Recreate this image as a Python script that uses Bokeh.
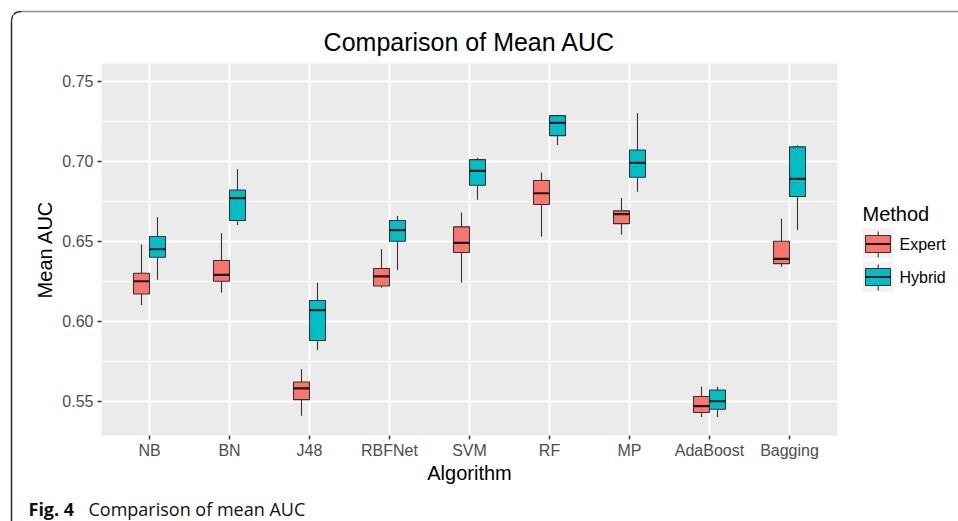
import math
from bokeh.plotting import figure
from bokeh.layouts import column, row
from bokeh.models import Range1d, FixedTicker
from bokeh.core.properties import value
from bokeh.embed import file_html
from bokeh.resources import INLINE

# ---------------- data ----------------
algorithms = ["NB", "BN", "J48", "RBFNet", "SVM", "RF", "MP", "AdaBoost", "Bagging"]
methods = ["Expert", "Hybrid"]
method_colors = ["#F8766D", "#00BFC4"]

expert_low = [0.610, 0.618, 0.541, 0.621, 0.624, 0.653, 0.654, 0.540, 0.634]
expert_q1 = [0.617, 0.625, 0.551, 0.622, 0.643, 0.673, 0.661, 0.543, 0.636]
expert_median = [0.625, 0.629, 0.558, 0.628, 0.649, 0.680, 0.667, 0.547, 0.639]
expert_q3 = [0.630, 0.638, 0.562, 0.633, 0.659, 0.688, 0.669, 0.553, 0.650]
expert_high = [0.648, 0.655, 0.570, 0.645, 0.668, 0.693, 0.677, 0.559, 0.664]

hybrid_low = [0.626, 0.660, 0.582, 0.632, 0.676, 0.710, 0.681, 0.540, 0.657]
hybrid_q1 = [0.640, 0.663, 0.588, 0.650, 0.685, 0.716, 0.690, 0.545, 0.678]
hybrid_median = [0.645, 0.677, 0.607, 0.657, 0.694, 0.724, 0.699, 0.550, 0.689]
hybrid_q3 = [0.653, 0.682, 0.613, 0.663, 0.701, 0.7285, 0.707, 0.557, 0.709]
hybrid_high = [0.665, 0.695, 0.624, 0.666, 0.702, 0.729, 0.730, 0.559, 0.710]

y_ticks = [0.55, 0.60, 0.65, 0.70, 0.75]
y_tick_labels = ["0.55", "0.60", "0.65", "0.70", "0.75"]
y_minor = [0.575, 0.625, 0.675, 0.725]

title_text = "Comparison of Mean AUC"
x_title = "Algorithm"
y_title = "Mean AUC"
legend_title = "Method"
caption_bold = "Fig. 4"
caption_text = "Comparison of mean AUC"

FONT = "Liberation Sans"
CAP_FONT = "Open Sans"
BORDER_DARK = "#2B2B2B"
BORDER_GREY = "#8C8C8C"

# page-pixel layout
STRIP_W = 13          # left border strip
YT_RIGHT = 56         # right edge of y-title strip
PANEL_L, PANEL_R = 101, 837
PANEL_T, PANEL_B = 63, 435
MAIN_B = 493          # bottom of main row
LEG_R = 958
PAGE_H = 521

# ---------------- helpers ----------------
def deco(x0, x1, y0, y1, fy0=None, fy1=None):
    """Figure whose data coordinates are page pixels (y downwards).
    fy0/fy1 give the frame's vertical extent when it differs from the canvas."""
    fy0 = y0 if fy0 is None else fy0
    fy1 = y1 if fy1 is None else fy1
    f = figure(width=x1 - x0, height=y1 - y0, output_backend="svg",
               toolbar_location=None, x_range=Range1d(x0, x1),
               y_range=Range1d(fy1, fy0), x_axis_type=None, y_axis_type=None,
               min_border=0, min_border_top=fy0 - y0, min_border_bottom=y1 - fy1)
    f.outline_line_color = None
    f.background_fill_color = "white"
    f.border_fill_color = "white"
    return f

def txt(f, x, y, s, size, align="center", font=FONT, style="normal",
        color="black", angle=0.0):
    f.text(x=[x], y=[y], text=[s], text_align=align, text_baseline="middle",
           text_font=value(font), text_font_size=size, text_font_style=style,
           text_color=color, angle=angle)

def corner(f):
    f.quadratic(x0=[11], y0=[21], x1=[21], y1=[11], cx=[11], cy=[11],
                line_color=BORDER_DARK, line_width=1.5)

# ---------------- left border strip ----------------
strip = deco(0, STRIP_W, 0, PAGE_H)
strip.segment(x0=[11], y0=[21], x1=[11], y1=[PAGE_H], line_color=BORDER_DARK, line_width=1.5)
corner(strip)

# ---------------- top strip: title + frame top ----------------
top = deco(STRIP_W, 958, 0, PANEL_T)
txt(top, (PANEL_L + PANEL_R) / 2, 41, title_text, "25px")
top.segment(x0=[21], y0=[11], x1=[958], y1=[11], line_color=BORDER_GREY, line_width=1.5)
corner(top)

# ---------------- y-title strip ----------------
left = deco(STRIP_W, YT_RIGHT, PANEL_T, MAIN_B, PANEL_T, PANEL_B)
txt(left, 44, 249, y_title, "20px", angle=math.pi / 2)

# ---------------- main plot ----------------
X0, X1 = 0.4, len(algorithms) + 0.6
Y0, Y1 = 0.5286, 0.7611
p = figure(width=PANEL_R + 3 - YT_RIGHT, height=MAIN_B - PANEL_T, output_backend="svg",
           toolbar_location=None, x_range=Range1d(X0, X1), y_range=Range1d(Y0, Y1),
           min_border_left=PANEL_L - YT_RIGHT, min_border_right=3, min_border_top=0,
           min_border_bottom=MAIN_B - PANEL_B)
p.background_fill_color = "#EBEBEB"
p.border_fill_color = "white"
p.outline_line_color = None

positions = list(range(1, len(algorithms) + 1))
p.xaxis.ticker = FixedTicker(ticks=positions)
p.xaxis.major_label_overrides = {i: a for i, a in zip(positions, algorithms)}
p.yaxis.ticker = FixedTicker(ticks=y_ticks, minor_ticks=y_minor)
p.yaxis.major_label_overrides = {t: l for t, l in zip(y_ticks, y_tick_labels)}
for ax in (p.xaxis, p.yaxis):
    ax.axis_line_color = None
    ax.major_tick_in = 0
    ax.major_tick_out = 4
    ax.major_tick_line_color = "#333333"
    ax.major_tick_line_width = 1.5
    ax.minor_tick_line_color = None
    ax.major_label_text_font = FONT
    ax.major_label_text_font_size = "16px"
    ax.major_label_text_color = "#4D4D4D"
    ax.major_label_standoff = 4
p.xaxis.major_label_standoff = 2
p.xaxis.axis_label = x_title
p.xaxis.axis_label_text_font = FONT
p.xaxis.axis_label_text_font_size = "20px"
p.xaxis.axis_label_text_font_style = "normal"
p.xaxis.axis_label_text_color = "black"
p.xaxis.axis_label_standoff = 0

p.xgrid.ticker = FixedTicker(ticks=positions)
p.xgrid.grid_line_color = "white"
p.xgrid.grid_line_width = 2
p.ygrid.ticker = FixedTicker(ticks=y_ticks, minor_ticks=y_minor)
p.ygrid.grid_line_color = "white"
p.ygrid.grid_line_width = 2
p.ygrid.minor_grid_line_color = "white"
p.ygrid.minor_grid_line_width = 1

offset, bw = 0.1, 0.2
series = [
    (expert_low, expert_q1, expert_median, expert_q3, expert_high, -offset, method_colors[0]),
    (hybrid_low, hybrid_q1, hybrid_median, hybrid_q3, hybrid_high, offset, method_colors[1]),
]
for low, q1, med, q3, high, off, col in series:
    xs = [x + off for x in positions]
    p.segment(x0=xs, y0=low, x1=xs, y1=high, line_color="#333333", line_width=1.1)
    p.vbar(x=xs, width=bw, bottom=q1, top=q3, fill_color=col,
           line_color="#333333", line_width=1.1)
    p.segment(x0=[x - bw / 2 for x in xs], y0=med, x1=[x + bw / 2 for x in xs], y1=med,
              line_color="#1A1A1A", line_width=2.2)

# ---------------- legend strip ----------------
leg = deco(PANEL_R + 3, LEG_R, PANEL_T, MAIN_B, PANEL_T, PANEL_B)
txt(leg, 862, 213, legend_title, "20px", align="left")
key_tops = [228, 261]
for t, m, col in zip(key_tops, methods, method_colors):
    leg.quad(left=[862.5], right=[893], top=[t], bottom=[t + 30],
             fill_color="#F2F2F2", line_color=None)
    leg.segment(x0=[877.7], y0=[t + 3], x1=[877.7], y1=[t + 29],
                line_color="#333333", line_width=1.1)
    leg.quad(left=[865], right=[890], top=[t + 7], bottom=[t + 24],
             fill_color=col, line_color="#333333", line_width=1.1)
    leg.segment(x0=[865], y0=[t + 15.5], x1=[890], y1=[t + 15.5],
                line_color="#1A1A1A", line_width=2)
    txt(leg, 899, t + 16, m, "16px", align="left")

# ---------------- caption strip ----------------
cap = deco(STRIP_W, 958, MAIN_B, PAGE_H)
txt(cap, 28, 508, caption_bold, "18px", align="left", font=CAP_FONT, style="bold",
    color="#111111")
txt(cap, 88, 508, caption_text, "18px", align="left", font=CAP_FONT, color="#111111")

layout = row(strip, column(top, row(left, p, leg), cap))
open("out.html", "w").write(file_html(layout, INLINE))
